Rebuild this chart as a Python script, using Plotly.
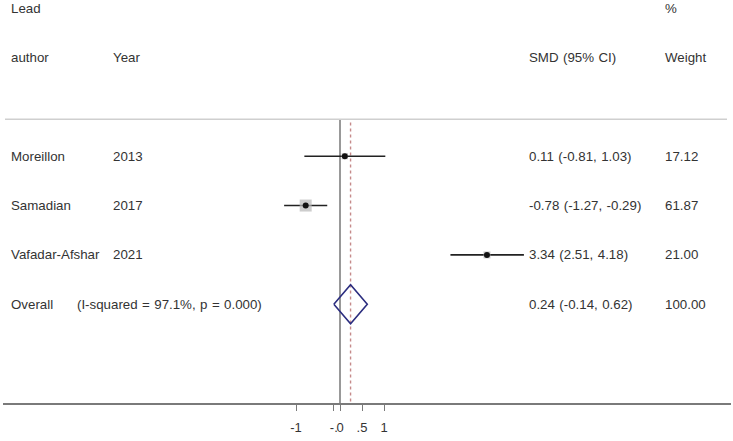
import plotly.graph_objects as go
import math

# ---- data ----
authors = ["Moreillon", "Samadian", "Vafadar-Afshar"]
years = ["2013", "2017", "2021"]
smd = [0.11, -0.78, 3.34]
ci_low = [-0.81, -1.27, 2.51]
ci_high = [1.03, -0.29, 4.18]
weights = [17.12, 61.87, 21.00]
overall_name = "Overall"
overall_het = "(I-squared = 97.1%, p = 0.000)"
overall_smd = 0.24
overall_low = -0.14
overall_high = 0.62
overall_weight = 100.00
tick_vals = [-1, -0.14, 0, 0.5, 1]
tick_text = ["-1", "-.", "0", ".5", "1"]

W, H = 733, 441
ML, MR, MT, MB = 3, 2, 0, 38
PX0 = 340          # pixel of x=0
PXU = 44.0         # pixels per unit
x_range = [-(PX0 - ML) / PXU, (W - MR - PX0) / PXU]
y_range = [5.0, -3.164]

SP = "\u2004"  # slightly wider space, like the original rendering


def sp(s):
    return s.replace(" ", SP)


def paper_x(px):
    return (px - ML) / (W - ML - MR)


rows = list(range(len(authors)))
overall_row = len(authors)

fig = go.Figure()

# CI lines
for i in rows:
    fig.add_trace(go.Scatter(x=[ci_low[i], ci_high[i]], y=[i, i], mode="lines",
                             line=dict(color="#222222", width=1.6),
                             hoverinfo="skip", showlegend=False))
# weight boxes
max_w = max(weights)
fig.add_trace(go.Scatter(x=smd, y=rows, mode="markers",
                         marker=dict(symbol="square", color="#b8b8b8",
                                     size=[12 * math.sqrt(w / max_w) for w in weights],
                                     line=dict(width=0)),
                         hoverinfo="skip", showlegend=False))
# point estimates
fig.add_trace(go.Scatter(x=smd, y=rows, mode="markers",
                         marker=dict(symbol="circle", color="#111111", size=6),
                         hoverinfo="skip", showlegend=False))
# overall diamond
hh = 0.395
fig.add_trace(go.Scatter(x=[overall_low, overall_smd, overall_high, overall_smd, overall_low],
                         y=[overall_row, overall_row - hh, overall_row, overall_row + hh, overall_row],
                         mode="lines", line=dict(color="#2b2d7f", width=1.6),
                         hoverinfo="skip", showlegend=False))

# reference lines
fig.add_shape(type="line", xref="x", yref="y", x0=0, x1=0, y0=-0.75, y1=5.0,
              line=dict(color="#555555", width=1.2), layer="below")
fig.add_shape(type="line", xref="x", yref="y", x0=overall_smd, x1=overall_smd, y0=-0.68, y1=5.0,
              line=dict(color="#c58a8a", width=1.4, dash="3px,3px"), layer="below")
# header divider
fig.add_shape(type="line", xref="paper", yref="y", x0=paper_x(5), x1=paper_x(727), y0=-0.75, y1=-0.75,
              line=dict(color="#cfcfcf", width=1.5))

font = dict(family="Liberation Sans, Arial, sans-serif", size=13.3, color="#333333")


def ann(text, px, row):
    fig.add_annotation(text=sp(text), x=paper_x(px - 2), xref="paper", y=row, yref="y",
                       xanchor="left", yanchor="middle", showarrow=False, font=font)


# headers
ann("Lead", 11, -3)
ann("author", 11, -2)
ann("Year", 113, -2)
ann("SMD (95% CI)", 529, -2)
ann("%", 665, -3)
ann("Weight", 665, -2)

for i in rows:
    ann(authors[i], 11, i)
    ann(years[i], 113, i)
    ann(f"{smd[i]:.2f} ({ci_low[i]:.2f}, {ci_high[i]:.2f})", 529, i)
    ann(f"{weights[i]:.2f}", 665, i)
ann(overall_name, 11, overall_row)
ann(overall_het, 77, overall_row)
ann(f"{overall_smd:.2f} ({overall_low:.2f}, {overall_high:.2f})", 529, overall_row)
ann(f"{overall_weight:.2f}", 665, overall_row)

fig.update_layout(
    width=W, height=H,
    margin=dict(l=ML, r=MR, t=MT, b=MB),
    paper_bgcolor="white", plot_bgcolor="white",
    xaxis=dict(range=x_range, showgrid=False, zeroline=False,
               showline=True, linecolor="#7a7a7a", linewidth=2,
               ticks="outside", ticklen=6, tickcolor="#7a7a7a", tickwidth=1.3,
               tickvals=tick_vals, ticktext=tick_text, ticklabelstandoff=5,
               tickangle=0,
               tickfont=dict(family="Liberation Sans, Arial, sans-serif", size=13, color="#333333")),
    yaxis=dict(range=y_range, showgrid=False, zeroline=False, showticklabels=False,
               showline=False, ticks=""),
)

fig.write_html("out.html", config={"displayModeBar": False},
               post_script="document.body.style.margin='0';document.body.style.padding='0';")
